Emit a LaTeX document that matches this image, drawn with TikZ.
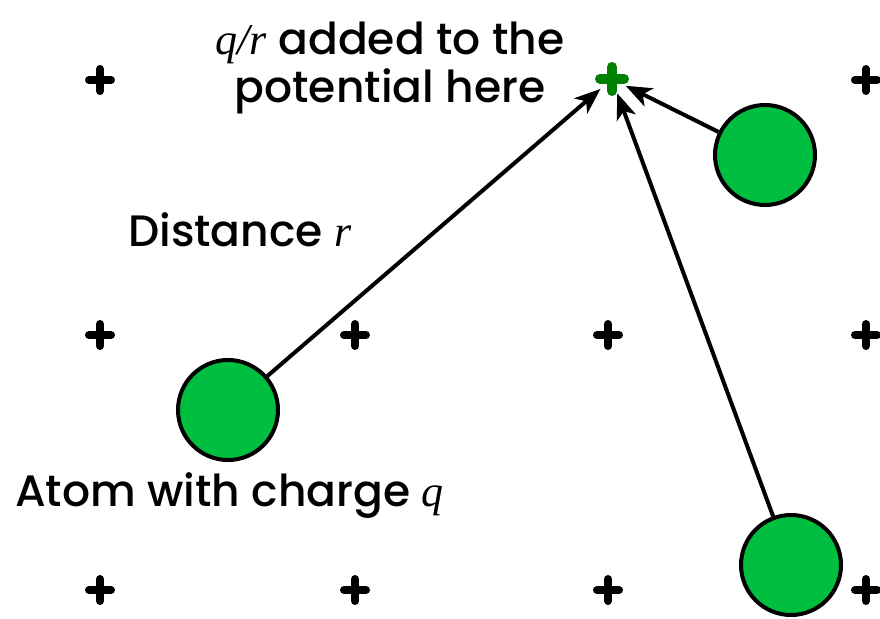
\documentclass[tikz,border=0pt]{standalone}
\usepackage{fontspec}
\usepackage{tikz}
\usetikzlibrary{arrows.meta, positioning}
\newfontfamily\labelfont{Poppins Medium}
\newfontfamily\varfont{Liberation Serif}
\newcommand{\var}[1]{{\varfont\itshape #1}}
\definecolor{atomgreen}{RGB}{0,191,64}
\definecolor{potgreen}{RGB}{0,128,0}

\begin{document}
\begin{tikzpicture}[x=1pt, y=1pt,
  atom/.style={circle, draw=black, line width=4pt, fill=atomgreen,
               minimum size=100pt, inner sep=0pt},
  lbl/.style={font=\labelfont\fontsize{44}{48}\selectfont, inner sep=0pt},
  gridmark/.style={line width=8pt, line cap=round, black},
  arr/.style={line width=4pt, black, -{Stealth[length=26pt,width=20pt,inset=7pt]}}
]
\useasboundingbox (0,0) rectangle (880,618);

% Grid points
\foreach \gx/\gy in {100/538, 866/538,
                     100/283, 355/283, 608/283, 866/283,
                     100/28, 355/28, 608/28, 866/28}
  \draw[gridmark] (\gx-11,\gy) -- (\gx+11,\gy) (\gx,\gy-11) -- (\gx,\gy+11);

% Grid point receiving the potential
\draw[gridmark, potgreen, line width=10pt] (600,539) -- (624,539) (612,527) -- (612,551);
\node[circle, minimum size=30pt, inner sep=0pt] (pot) at (612,539) {};

% Atoms
\node[atom] (atomA) at (228,208) {};
\node[atom] (atomB) at (765,463) {};
\node[atom] (atomC) at (791,53) {};

% Distances to the grid point
\draw[arr] (atomA) -- (pot);
\draw[arr] (atomB) -- (pot);
\draw[arr] (atomC) -- (pot);

% Labels
\node[lbl, align=center, anchor=base] (potlbl) at (390,515)
  {\var{q/r} added to the\\potential here};
\node[lbl, anchor=base west] (distlbl) at (128,371) {Distance \var{r}};
\node[lbl, anchor=base west] (atomlbl) at (15,111) {Atom with charge \var{q}};

\end{tikzpicture}
\end{document}
